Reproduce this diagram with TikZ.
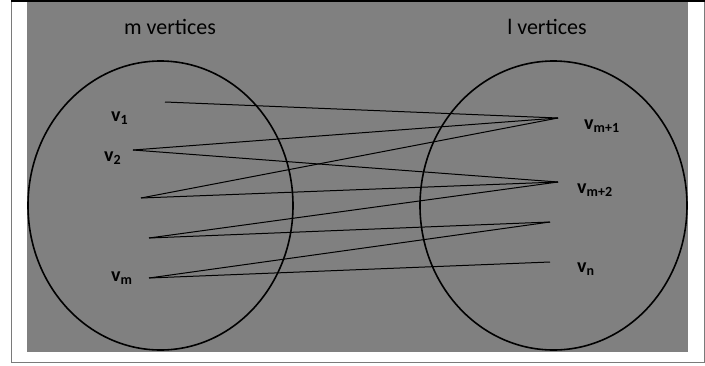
\documentclass[tikz,border=0pt]{standalone}
\usepackage{fontspec}
\setmainfont{Carlito}
\definecolor{bg}{HTML}{808080}
\definecolor{framegray}{HTML}{7A7A7A}
\begin{document}
\begin{tikzpicture}[x=1pt,y=-1pt,
  title/.style={font=\fontsize{22}{24}\selectfont, anchor=base, inner sep=0pt},
  vlabel/.style={font=\fontsize{20}{22}\selectfont, anchor=base west, inner sep=0pt},
  setring/.style={draw=black, line width=1.6pt},
  edgeline/.style={draw=black, line width=1pt},
  pt/.style={inner sep=0pt, minimum size=0pt}]
\useasboundingbox (0,0) rectangle (705,365);
% frame
\draw[framegray, line width=1pt] (11,1) -- (11,362) -- (704,362) -- (704,1);
\draw[black, line width=1.6pt] (11,1) -- (705,1);
% background
\fill[bg] (27,2) rectangle (688,352);
% titles
\node[title] (tm) at (170,34) {m vertices};
\node[title] (tl) at (547,34) {l vertices};
% sets
\draw[setring] (160.5,205.5) ellipse [x radius=132.5, y radius=144.5];
\draw[setring] (553.5,205.5) ellipse [x radius=133.5, y radius=144.5];
% vertex labels
\newcommand{\sbs}[1]{\textsubscript{\bfseries #1}}
\node[vlabel] (l1) at (111,121) {\textbf{v}\sbs{1}};
\node[vlabel] (l2) at (104,161) {\textbf{v}\sbs{2}};
\node[vlabel] (lm) at (111,281) {\textbf{v}\sbs{m}};
\node[vlabel] (lm1) at (584,129) {\textbf{v}\sbs{m+1}};
\node[vlabel] (lm2) at (577,193) {\textbf{v}\sbs{m+2}};
\node[vlabel] (ln) at (577,272) {\textbf{v}\sbs{n}};
% endpoints
\coordinate (A1) at (165,102);
\coordinate (A2) at (133,150);
\coordinate (A3) at (141,198);
\coordinate (A4) at (149,238);
\coordinate (A5) at (149,278);
\coordinate (B1) at (558,118);
\coordinate (B2) at (558,182);
\coordinate (B3) at (550,222);
\coordinate (B4) at (550,262);
% edges
\draw[edgeline] (A1) -- (B1);
\draw[edgeline] (A2) -- (B1);
\draw[edgeline] (A3) -- (B1);
\draw[edgeline] (A2) -- (B2);
\draw[edgeline] (A3) -- (B2);
\draw[edgeline] (A4) -- (B2);
\draw[edgeline] (A4) -- (B3);
\draw[edgeline] (A5) -- (B3);
\draw[edgeline] (A5) -- (B4);
\end{tikzpicture}
\end{document}
